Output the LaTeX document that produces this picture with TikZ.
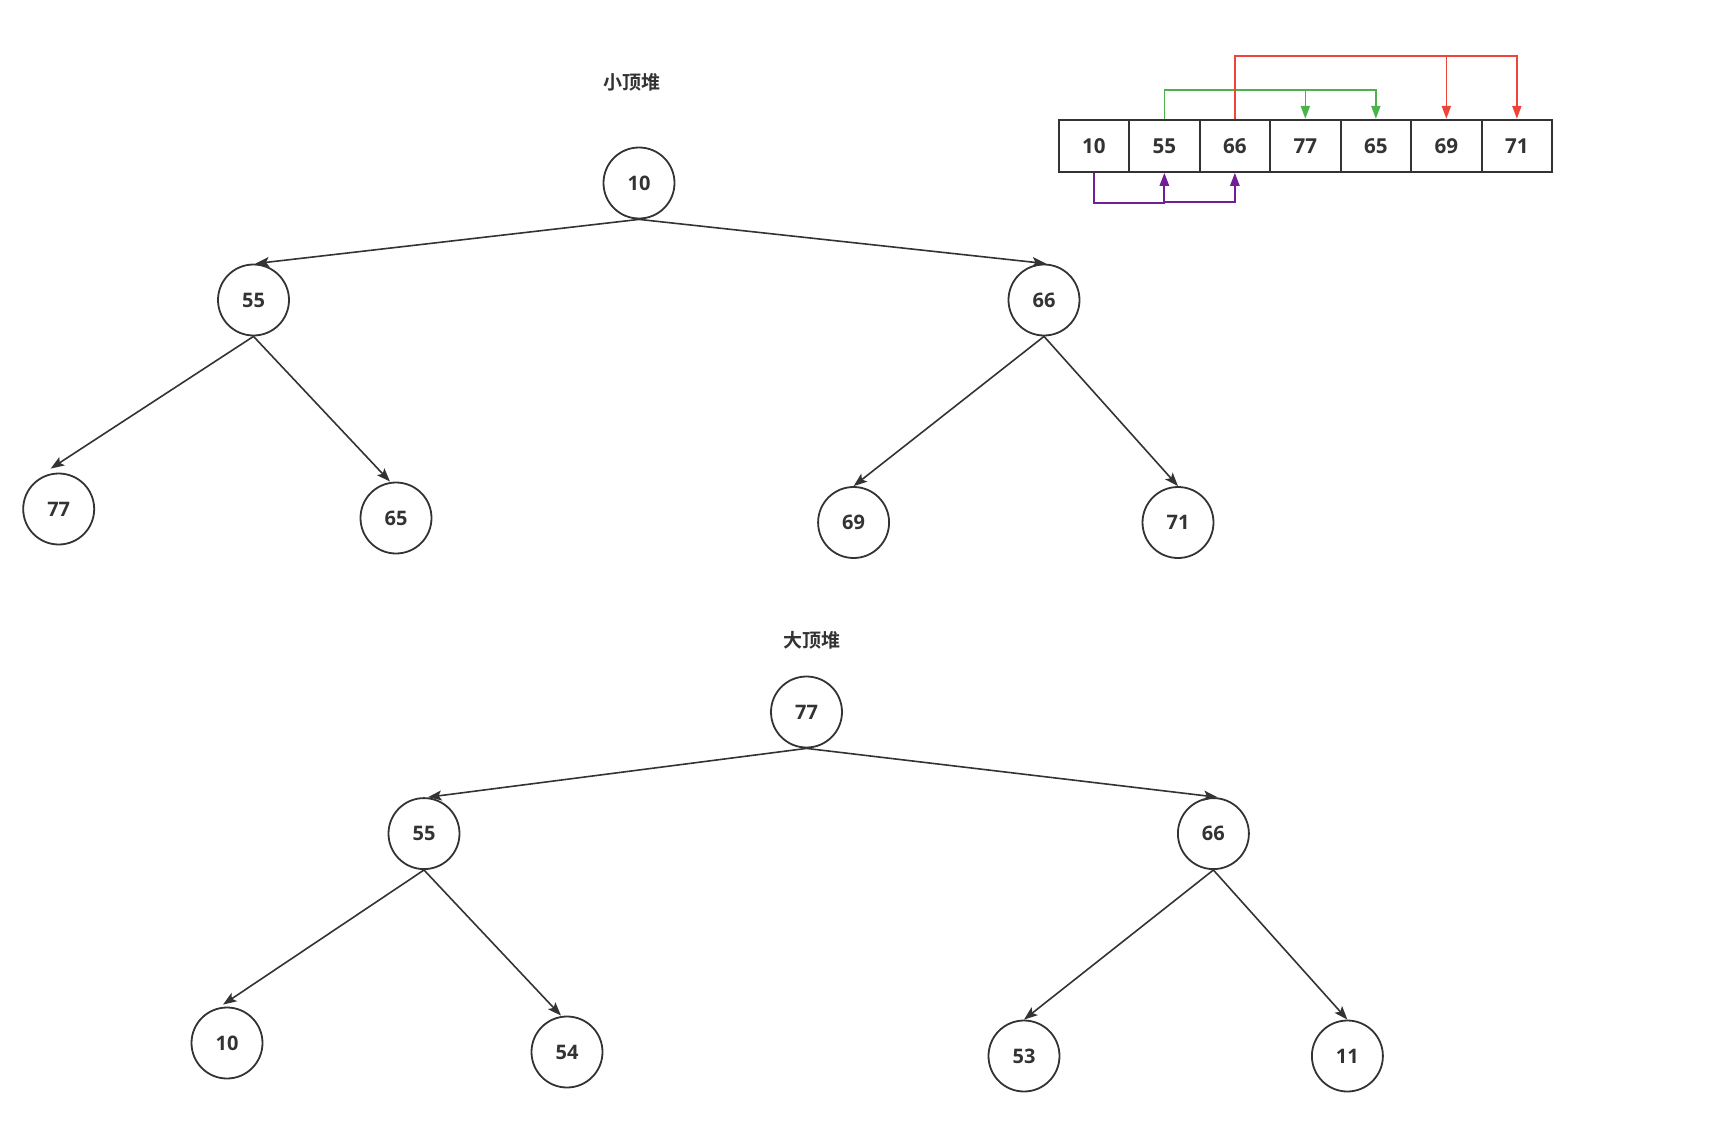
\documentclass[tikz,border=0pt]{standalone}
\usepackage{fontspec}
\usetikzlibrary{arrows.meta,calc}
\newfontfamily\numfont{Open Sans}
\newfontfamily\cjk{Noto Sans CJK SC}[BoldFont={Noto Sans CJK SC Bold}]
\definecolor{ink}{RGB}{51,51,51}
\definecolor{arrgreen}{RGB}{76,178,74}
\definecolor{arrred}{RGB}{240,68,56}
\definecolor{arrpurple}{RGB}{114,30,150}
\begin{document}
\begin{tikzpicture}[x=0.5pt,y=-0.5pt,
  hnode/.style={circle, draw=ink, line width=0.9pt, minimum size=35.5pt, inner sep=0pt,
    text=ink, font=\numfont\bfseries\fontsize{10}{12}\selectfont},
  cell/.style={rectangle, draw=ink, line width=1pt, minimum width=35.25pt, minimum height=26pt,
    inner sep=0pt, text=ink, font=\numfont\bfseries\fontsize{10.3}{12}\selectfont},
  title/.style={text=ink, font=\cjk\bfseries\fontsize{9.5}{11}\selectfont},
  tedge/.style={draw=ink, line width=0.8pt, -{Stealth[length=6.8pt,width=5pt,inset=1.5pt]}},
  gline/.style={draw=arrgreen, line width=0.8pt},
  rline/.style={draw=arrred, line width=0.8pt},
  pline/.style={draw=arrpurple, line width=1pt},
  tip/.style={-{Triangle[length=6.5pt,width=4.6pt]}}
]
\useasboundingbox (0,0) rectangle (1736,1140);

% ---------- small top heap ----------
\node[title] (t1) at (632,82) {小顶堆};
\node[hnode] (a10) at (639,183) {10};
\node[hnode] (a55) at (253.5,300) {55};
\node[hnode] (a66) at (1044,300) {66};
\node[hnode] (a77) at (58.7,509) {77};
\node[hnode] (a65) at (396,518) {65};
\node[hnode] (a69) at (853.6,522.5) {69};
\node[hnode] (a71) at (1178,522.5) {71};
\draw[tedge] (a10.south) -- ([xshift=1]a55.north);
\draw[tedge] (a10.south) -- ([xshift=1]a66.north);
\draw[tedge] (a55.south) -- ([xshift=-4,yshift=2]a77.north);
\draw[tedge] (a55.south) -- ([xshift=-3]a65.north);
\draw[tedge] (a66.south) -- (a69.north);
\draw[tedge] (a66.south) -- (a71.north);

% ---------- big top heap ----------
\node[title] (t2) at (811.5,640) {大顶堆};
\node[hnode] (b77) at (806.5,712) {77};
\node[hnode] (b55) at (424,833.6) {55};
\node[hnode] (b66) at (1213.4,833.6) {66};
\node[hnode] (b10) at (227,1043) {10};
\node[hnode] (b54) at (567,1052) {54};
\node[hnode] (b53) at (1024,1056) {53};
\node[hnode] (b11) at (1347.4,1056) {11};
\draw[tedge] (b77.south) -- ([xshift=2]b55.north);
\draw[tedge] (b77.south) -- ([xshift=2]b66.north);
\draw[tedge] (b55.south) -- ([xshift=-2,yshift=1]b10.north);
\draw[tedge] (b55.south) -- ([xshift=-3]b54.north);
\draw[tedge] (b66.south) -- (b53.north);
\draw[tedge] (b66.south) -- (b11.north);

% ---------- array ----------
\node[cell] (c1) at (1093.85,145.8) {10};
\node[cell] (c2) at (1164.35,145.8) {55};
\node[cell] (c3) at (1234.85,145.8) {66};
\node[cell] (c4) at (1305.35,145.8) {77};
\node[cell] (c5) at (1375.85,145.8) {65};
\node[cell] (c6) at (1446.35,145.8) {69};
\node[cell] (c7) at (1516.85,145.8) {71};

\coordinate (gtop) at (0,89.7);
\coordinate (rtop) at (0,55.9);
\coordinate (pbot) at (0,203);
\coordinate (pbot2) at (0,201.6);

% green: 55 -> 77, 65
\draw[gline,tip] (c2.north) -- (c2.north |- gtop) -| (c5.north);
\draw[gline,tip] (c4.north |- gtop) -- (c4.north);
% red: 66 -> 69, 71
\draw[rline,tip] (c3.north) -- (c3.north |- rtop) -| (c7.north);
\draw[rline,tip] (c6.north |- rtop) -- (c6.north);
% purple: 10 -> 55, 66
\draw[pline,tip] (c1.south) -- (c1.south |- pbot) -| (c2.south);
\draw[pline,tip] (c2.south |- pbot2) -| (c3.south);
\end{tikzpicture}
\end{document}
